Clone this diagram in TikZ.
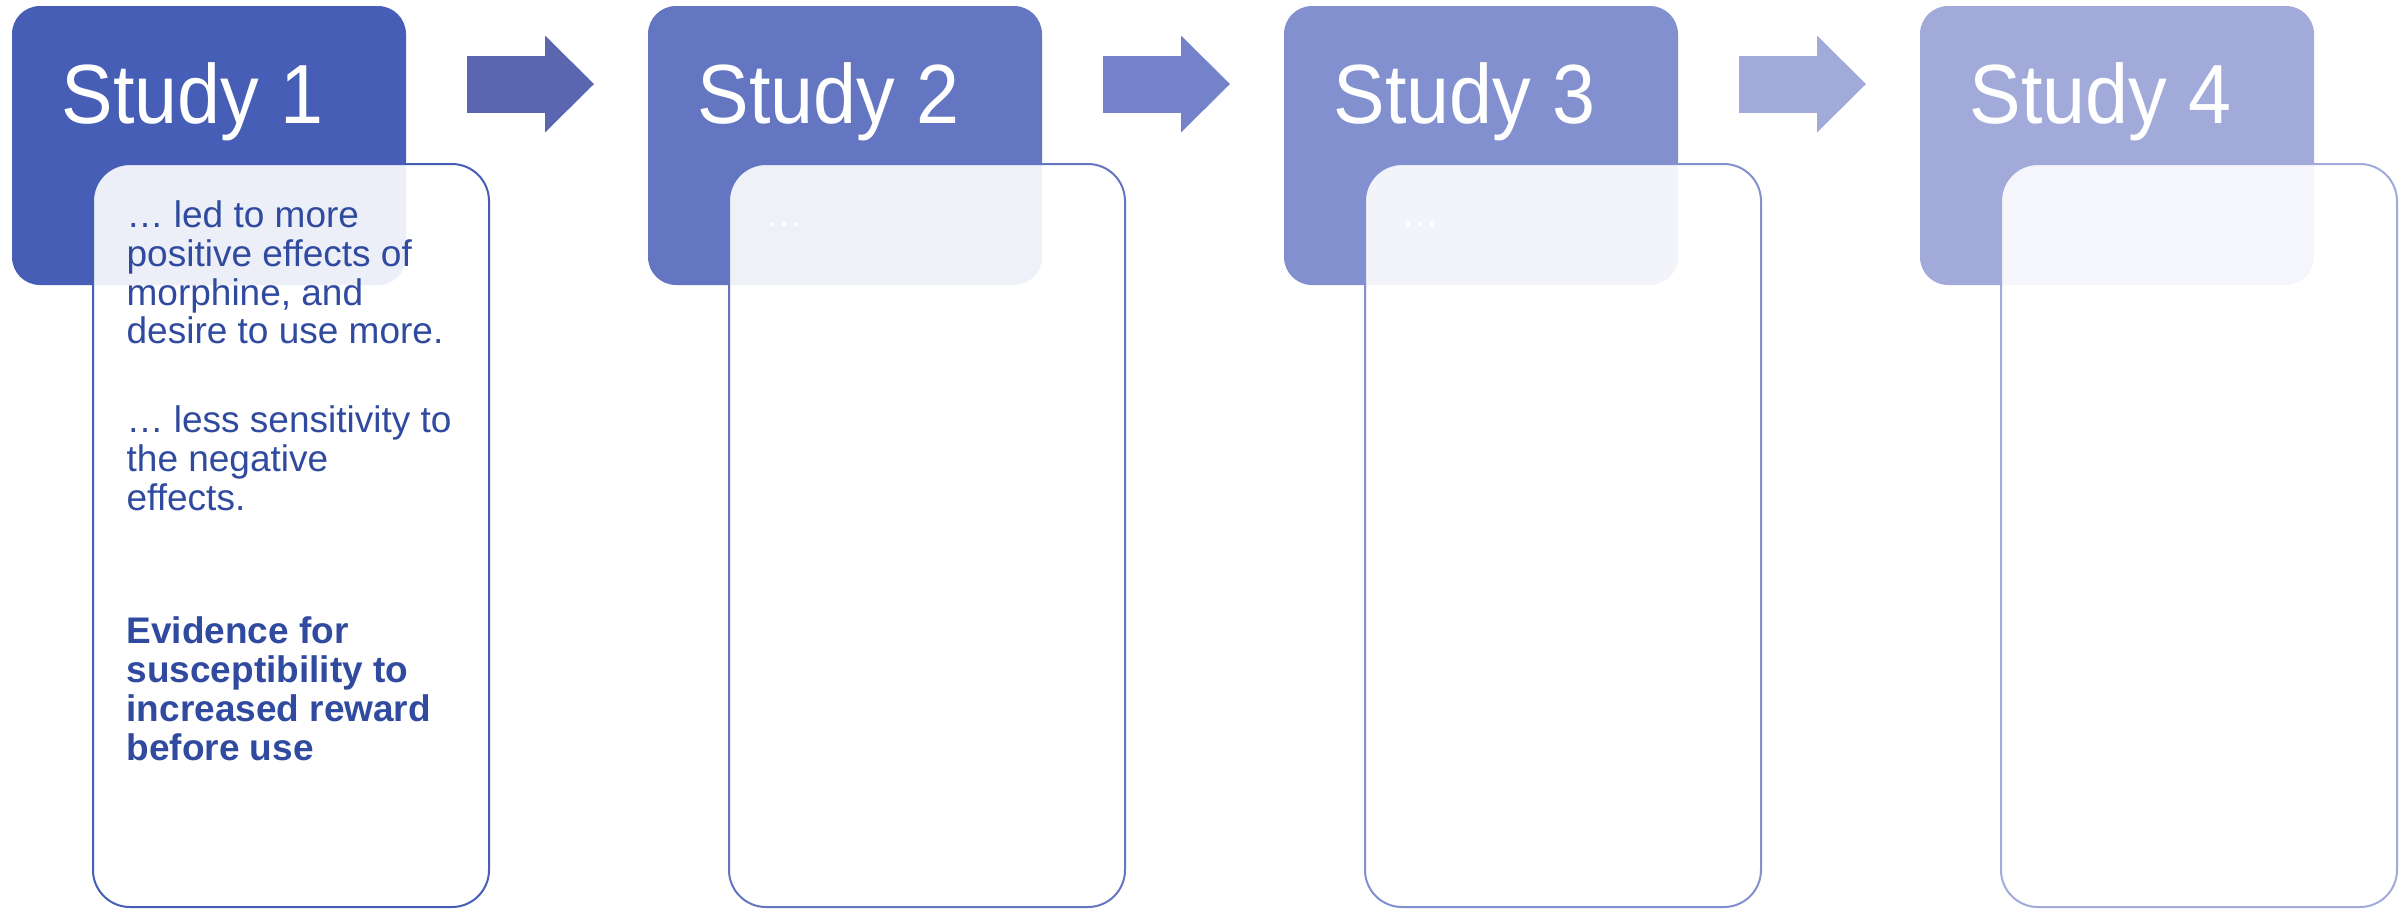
\documentclass[tikz,border=0pt]{standalone}
\usepackage{fontspec}
\setmainfont{Liberation Sans}
\newfontfamily\headfont[FakeStretch=0.92]{Liberation Sans}
\usepackage{xcolor}
\usetikzlibrary{arrows.meta}
\usetikzlibrary{chains}
\usetikzlibrary{positioning}

\definecolor{studyA}{HTML}{465EB5}
\definecolor{studyB}{HTML}{6476C2}
\definecolor{studyC}{HTML}{8390CF}
\definecolor{studyD}{HTML}{A2AADA}
\definecolor{arrowA}{HTML}{5A67B0}
\definecolor{arrowB}{HTML}{7483C9}
\definecolor{arrowC}{HTML}{A2AADA}
\definecolor{findtext}{HTML}{2F4A9F}

\begin{document}
\begin{tikzpicture}[
        x=0.3pt, y=-0.3pt,
        start chain=heads going right,
        node distance=72.6pt,
        head/.style={
            on chain=heads, rectangle, rounded corners=8.4pt, outer sep=0pt,
            minimum width=118.2pt, minimum height=83.7pt, inner sep=0pt
        },
        title/.style={text=white, inner sep=0pt, font=\headfont\fontsize{25.2pt}{30pt}\selectfont},
        card/.style={
            rectangle, rounded corners=11.1pt, fill=white, fill opacity=0.9,
            line width=0.6pt, minimum width=118.8pt, minimum height=222.9pt, inner sep=0pt
        },
        finding/.style={text=findtext, align=left, inner sep=0pt, font=\fontsize{11.1pt}{11.6pt}\selectfont},
        flow/.style={line width=17.1pt, -{Triangle[length=14.7pt, width=29.1pt, line width=0pt]}},
        ]
        \useasboundingbox (0,0) rectangle (2407,908);

        \node[head, fill=studyA, anchor=north west] (head1) at (12,6) {};
        \node[head, fill=studyB] (head2) {};
        \node[head, fill=studyC] (head3) {};
        \node[head, fill=studyD] (head4) {};

        \foreach \i in {1,...,4}
            \node[title, anchor=base west] (title\i) at ([shift={(49,117)}]head\i.north west) {Study \i};

        \foreach \i/\j/\col in {1/2/arrowA, 2/3/arrowB, 3/4/arrowC}
            \draw[flow, draw=\col] ([shift={(61,78)}]head\i.north east) -- ([shift={(-54,78)}]head\j.north west);

        \foreach \i/\col in {1/studyA, 2/studyB, 3/studyC, 4/studyD}
            \node[card, draw=\col, anchor=north west] (card\i) at ([shift={(80,157)}]head\i.north west) {};

        % findings of the first study
        \node[finding, anchor=north west] (led) at ([shift={(34,37.5)}]card1.north west)
            {… led to more\\positive effects of\\morphine, and\\desire to use more.};
        \node[finding, anchor=north west] (less) at ([shift={(34,242.5)}]card1.north west)
            {… less sensitivity to\\the negative\\effects.};
        \node[finding, font=\fontsize{11.1pt}{11.7pt}\selectfont\bfseries, anchor=north west] (evidence)
            at ([shift={(34,453)}]card1.north west)
            {Evidence for\\susceptibility to\\increased reward\\before use};

        \foreach \i in {2,3}
            \node[finding, text=white, anchor=base west] (dots\i) at ([shift={(37,63)}]card\i.north west) {…};
    \end{tikzpicture}
\end{document}
